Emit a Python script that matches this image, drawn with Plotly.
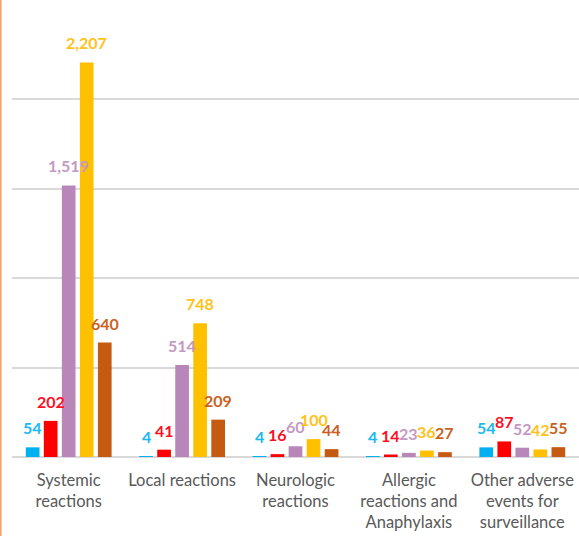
import plotly.graph_objects as go

categories = [
    "Systemic<br>reactions",
    "Local reactions",
    "Neurologic<br>reactions",
    "Allergic<br>reactions and<br>Anaphylaxis",
    "Other adverse<br>events for<br>surveillance",
]

series_a = [54, 4, 4, 4, 54]
series_b = [202, 41, 16, 14, 87]
series_c = [1519, 514, 60, 23, 52]
series_d = [2207, 748, 100, 36, 42]
series_e = [640, 209, 44, 27, 55]

all_series = [series_a, series_b, series_c, series_d, series_e]
bar_colors = ["#00B0F0", "#FF0000", "#B986B9", "#FFC000", "#C55A11"]
label_colors = ["#1CB8F2", "#FF0F1F", "#C499C4", "#FFC21A", "#C8621E"]

W, H = 579, 536
ML, MR, MT, MB = 12, 0, 10, 79
plot_w = W - ML - MR
cat_w = plot_w / len(categories)
bar_gap = 0.205
group_gap = 0.24
slot = cat_w * (1 - bar_gap) / len(all_series)

fig = go.Figure()
for k, vals in enumerate(all_series):
    fig.add_trace(go.Bar(
        x=categories, y=vals, marker_color=bar_colors[k],
        marker_line_width=0, hoverinfo="skip",
    ))
    for cat, v in zip(categories, vals):
        fig.add_annotation(
            x=cat, y=v, xref="x", yref="y",
            text=f"<b>{v:,}</b>", showarrow=False,
            yanchor="bottom", yshift=8,
            xshift=(k - 2) * slot,
            font=dict(family="Lato", size=16, color=label_colors[k]),
        )

# left border of the chart frame
fig.add_shape(type="line", xref="paper", yref="paper",
              x0=-(ML - 0.8) / plot_w, x1=-(ML - 0.8) / plot_w,
              y0=-2, y1=2, line=dict(color="#F4A46A", width=1.6))

fig.update_layout(
    width=W, height=H,
    margin=dict(l=ML, r=MR, t=MT, b=MB, pad=0),
    paper_bgcolor="white", plot_bgcolor="white",
    barmode="group", bargap=bar_gap, bargroupgap=group_gap,
    showlegend=False,
    font=dict(family="Lato", size=16.5, color="#595959"),
    xaxis=dict(showgrid=False, showline=False, ticks="",
               tickfont=dict(family="Lato", size=16.5, color="#595959"),
               ticklabelstandoff=11, fixedrange=True),
    yaxis=dict(range=[0, 2500], dtick=500, showticklabels=False,
               showgrid=True, gridcolor="#D9D9D9", gridwidth=1.5,
               zeroline=True, zerolinecolor="#D9D9D9", zerolinewidth=1.5,
               showline=False, ticks="", fixedrange=True),
)

fig.write_html("out.html")
